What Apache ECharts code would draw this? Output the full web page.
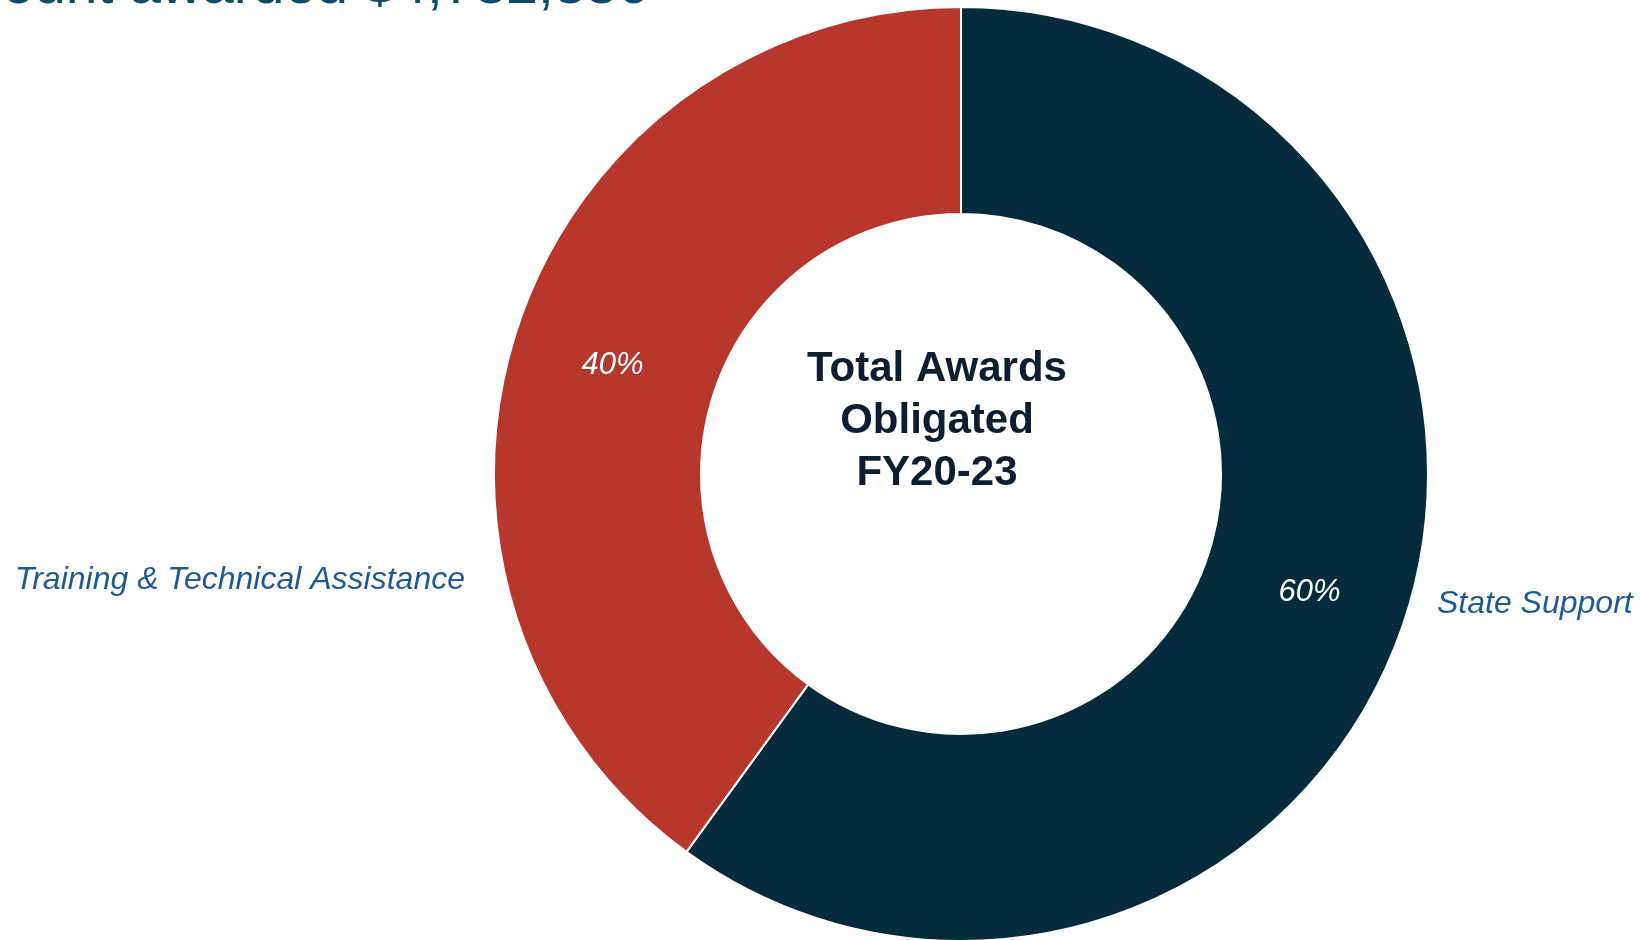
<!DOCTYPE html>
<html>
<head>
<meta charset="utf-8">
<style>
  html, body { margin: 0; padding: 0; background: #fff; }
  #main { width: 1642px; height: 940px; }
</style>
<script src="https://cdn.jsdelivr.net/npm/echarts@6/dist/echarts.min.js"></script>
</head>
<body>
<div id="main"></div>
<script>
// data
var categories = ['State Support', 'Training & Technical Assistance']
var shares = [60, 40]
var sliceColors = ['#042b3c', '#b8372c']
var centerLines = ['Total Awards', 'Obligated', 'FY20-23']
var headline = 'Total amount awarded $4,782,386'

var font = '"Liberation Sans", Arial, sans-serif'
var pieData = categories.map(function (name, i) {
  return { name: name, value: shares[i], itemStyle: { color: sliceColors[i] } }
})

// where the category names sit (left edge, vertical middle)
var namePos = [[1437, 604], [15, 580]]

var myChart = echarts.init(document.getElementById('main'))
myChart.setOption({
  animation: false,
  graphic: [{
    // headline above the chart, mostly cut off by the top edge
    type: 'text',
    x: 649,
    y: -13,
    style: {
      text: headline,
      font: '57px ' + font,
      fill: '#0f4c68',
      textAlign: 'right',
      textVerticalAlign: 'middle'
    }
  }, {
    type: 'text',
    x: 937,
    y: 421,
    z: 10,
    style: {
      text: centerLines.join('\n'),
      font: 'bold 42px ' + font,
      lineHeight: 52,
      fill: '#0d1e31',
      textAlign: 'center',
      textVerticalAlign: 'middle'
    }
  }],
  series: [{
    type: 'pie',
    center: [961, 474],
    radius: [260, 467],
    startAngle: 90,
    clockwise: true,
    silent: true,
    itemStyle: { borderColor: '#fff', borderWidth: 2 },
    label: {
      show: true,
      position: 'inside',
      formatter: '{d}%',
      color: '#fff',
      fontFamily: font,
      fontStyle: 'italic',
      fontSize: 31,
      offset: [0, 5]
    },
    labelLine: { show: false },
    data: pieData
  }, {
    // second pass only for the category names
    type: 'pie',
    center: [961, 474],
    radius: [260, 467],
    startAngle: 90,
    silent: true,
    z: 1,
    itemStyle: { color: 'transparent' },
    label: {
      show: true,
      position: 'outside',
      formatter: '{b}',
      color: '#1f5a94',
      fontFamily: font,
      fontStyle: 'italic',
      fontSize: 32,
      overflow: 'none'
    },
    labelLine: { show: false },
    labelLayout: function (params) {
      var p = namePos[params.dataIndex]
      return { x: p[0], y: p[1], align: 'left', verticalAlign: 'middle' }
    },
    data: categories.map(function (name, i) {
      return { name: name, value: shares[i] }
    })
  }]
})
</script>
</body>
</html>
